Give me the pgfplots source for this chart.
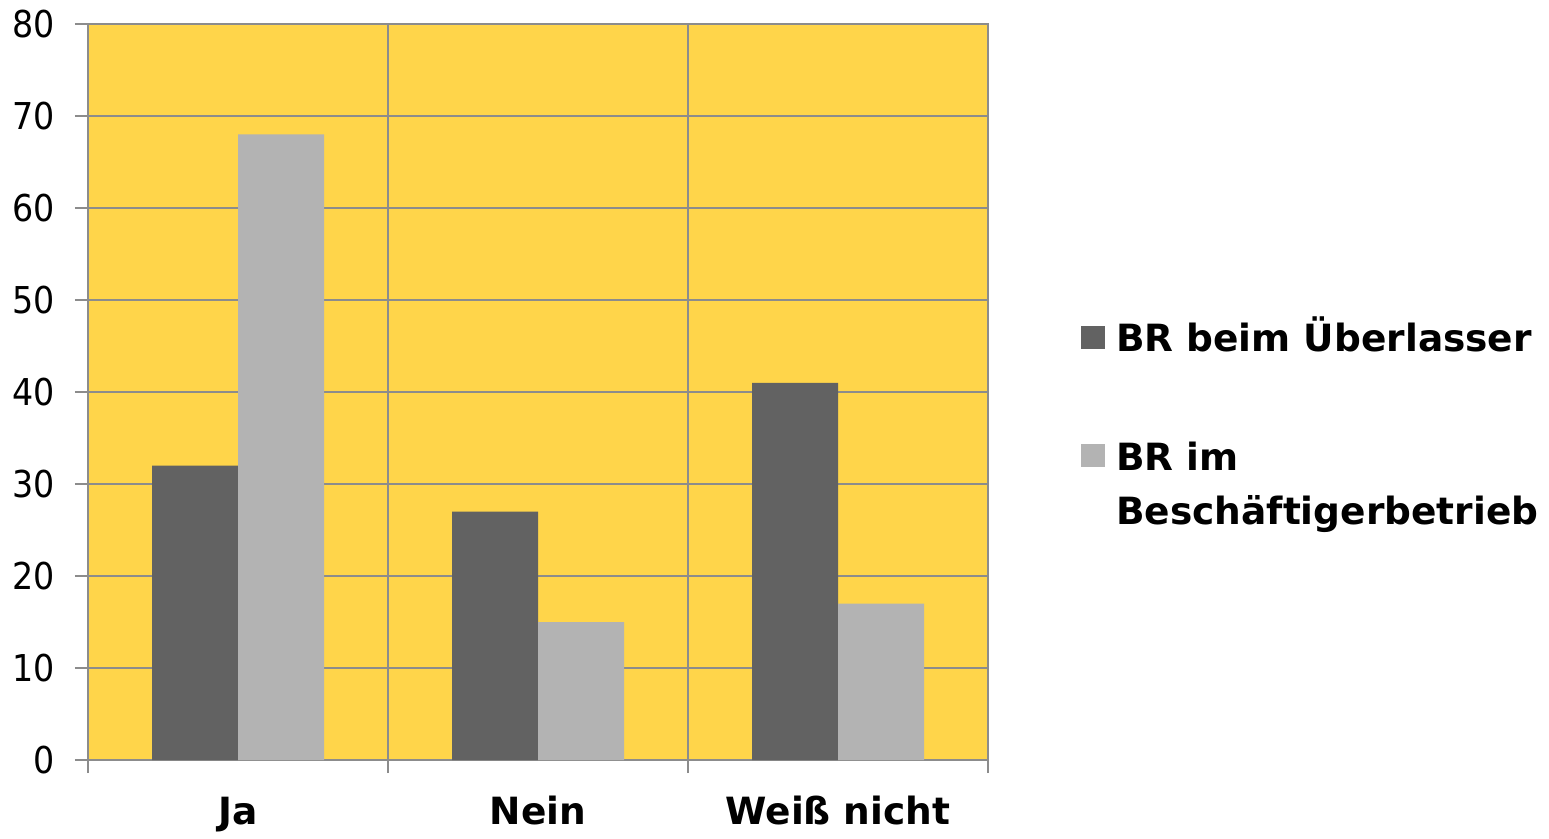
\documentclass[border=0pt]{standalone}
\usepackage{fontspec}
\setmainfont{DejaVu Sans}
\newfontfamily\condfont{DejaVu Sans Condensed}
\usepackage{pgfplots}
\pgfplotsset{compat=1.18}
\definecolor{bgy}{HTML}{FFD54A}
\definecolor{dk}{HTML}{626262}
\definecolor{lt}{HTML}{B3B3B3}
\definecolor{gr}{HTML}{8C8C8C}
\begin{document}
\begin{tikzpicture}[x=1pt,y=1pt]
\path[use as bounding box] (0,0) rectangle (1549,-838);
\begin{axis}[
  at={(88pt,-760pt)}, anchor=south west,
  width=900pt, height=736pt, scale only axis,
  xmin=-0.5, xmax=2.5, ymin=0, ymax=80,
  ytick={0,10,...,80},
  xtick={-0.5,0.5,1.5,2.5}, xticklabels={},
  extra x ticks={0,1,2},
  extra x tick labels={Ja,Nein,Weiß nicht},
  extra x tick style={major tick length=0pt, grid=none,
    tick label style={font=\fontsize{37.5}{40}\selectfont\bfseries, inner sep=0pt, anchor=base, yshift=-64pt}},
  /pgf/number format/assume math mode=true,
  yticklabel style={font=\condfont\fontsize{37}{40}\selectfont, inner sep=0pt, anchor=east, xshift=-20pt},
  tick pos=left,
  xmajorgrids, ymajorgrids,
  grid style={gr, line width=1.5pt},
  axis line style={gr, line width=1.5pt},
  tick style={gr, line width=1.5pt},
  tick align=outside, major tick length=13pt,
  axis background/.style={fill=bgy},
  ybar=0pt, bar width=86pt,
  legend style={at={(1.1033,0.602)}, anchor=north west, draw=none, fill=none,
    inner sep=0pt, column sep=11pt, row sep=79pt,
    cells={anchor=base west},
    nodes={inner sep=0pt, font=\fontsize{37.5}{54}\selectfont\bfseries}},
  legend image code/.code={\fill[#1] (0pt,3pt) rectangle (24pt,26pt);},
]
\addplot[fill=dk, draw=none] coordinates {(0,32) (1,27) (2,41)};
\addlegendentry{BR beim Überlasser}
\addplot[fill=lt, draw=none] coordinates {(0,68) (1,15) (2,17)};
\addlegendentry{\begin{tabular}[t]{@{}l@{}}BR im\\Beschäftigerbetrieb\end{tabular}}
\end{axis}
\end{tikzpicture}
\end{document}
